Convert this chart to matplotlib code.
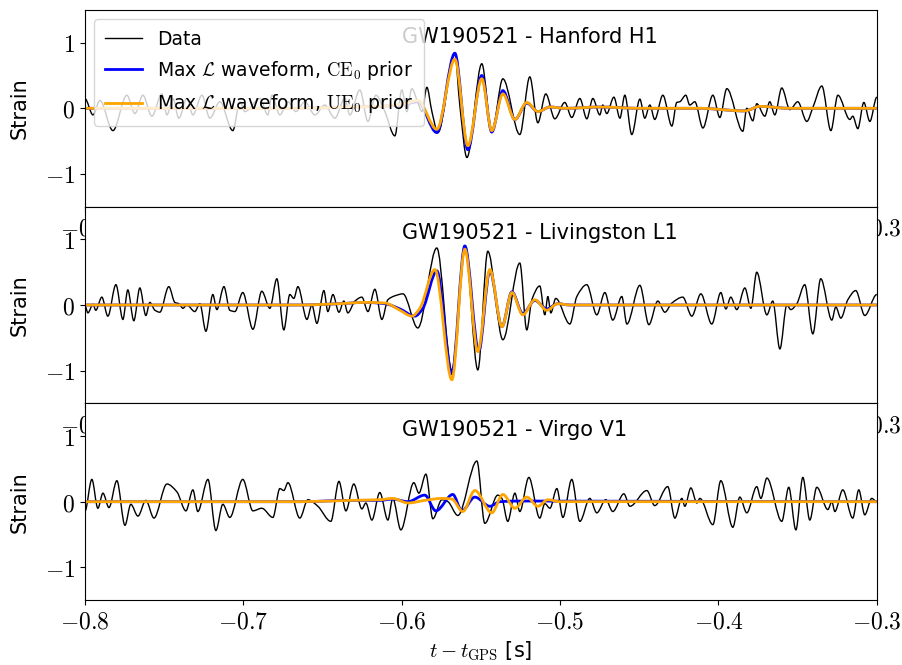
import numpy as np
import matplotlib
matplotlib.use("Agg")
import matplotlib.pyplot as plt
from matplotlib.ticker import FuncFormatter
from matplotlib.path import Path
from matplotlib.patches import PathPatch

plt.rcParams['font.family'] = 'DejaVu Sans'
plt.rcParams['mathtext.fontset'] = 'cm'

# ---- Hanford H1 ----
h1_t = [-0.8000, -0.7949, -0.7905, -0.7823, -0.7735, -0.7684, -0.7634, -0.7577, -0.7514, -0.7482,
        -0.7444, -0.7407, -0.7356, -0.7318, -0.7261, -0.7211, -0.7148, -0.7066, -0.7021, -0.6990,
        -0.6895, -0.6845, -0.6819, -0.6769, -0.6718, -0.6668, -0.6611, -0.6548, -0.6485, -0.6422,
        -0.6359, -0.6327, -0.6264, -0.6213, -0.6163, -0.6106, -0.6043, -0.5999, -0.5967, -0.5936,
        -0.5898, -0.5872, -0.5841, -0.5809, -0.5771, -0.5664, -0.5633, -0.5588, -0.5494, -0.5431,
        -0.5361, -0.5254, -0.5191, -0.5140, -0.5090, -0.5033, -0.4970, -0.4926, -0.4875, -0.4831,
        -0.4793, -0.4749, -0.4730, -0.4705, -0.4660, -0.4622, -0.4591, -0.4547, -0.4496, -0.4465,
        -0.4433, -0.4402, -0.4351, -0.4294, -0.4263, -0.4244, -0.4206, -0.4181, -0.4149, -0.4098,
        -0.4035, -0.3991, -0.3947, -0.3846, -0.3821, -0.3783, -0.3758, -0.3707, -0.3676, -0.3644,
        -0.3600, -0.3549, -0.3499, -0.3442, -0.3404, -0.3347, -0.3290, -0.3246, -0.3170, -0.3152,
        -0.3120, -0.3082, -0.3044, -0.3000]
h1_data = [0.15, -0.10, 0.12, -0.34, 0.20, -0.08, 0.20, -0.12, 0.22, -0.10,
           0.15, -0.15, 0.15, -0.10, 0.20, -0.15, 0.10, -0.34, 0.10, -0.05,
           0.15, -0.10, 0.20, -0.10, 0.10, -0.05, 0.10, -0.10, 0.05, -0.15,
           0.15, -0.10, 0.28, -0.20, 0.20, -0.05, -0.42, 0.28, -0.05, 0.30,
           0.09, -0.05, 0.32, -0.05, -0.37, 0.83, 0.05, -0.75, 0.68, -0.37,
           0.45, -0.40, 0.48, -0.22, 0.22, -0.16, 0.09, -0.14, 0.15, -0.16,
           0.15, -0.10, 0.05, -0.08, 0.17, -0.15, 0.20, -0.40, 0.14, -0.15,
           0.05, -0.17, 0.20, -0.27, 0.09, 0.10, 0.20, 0.05, 0.10, -0.30,
           0.20, -0.14, 0.30, -0.35, 0.00, -0.19, 0.07, -0.12, 0.10, -0.10,
           0.31, -0.02, 0.10, -0.20, 0.01, 0.34, -0.34, 0.20, -0.17, -0.12,
           -0.31, 0.09, -0.20, 0.17]
h1_wf_t = [-0.8000, -0.6643, -0.6327, -0.6138, -0.5980, -0.5898, -0.5778, -0.5664, -0.5582, -0.5494,
           -0.5431, -0.5361, -0.5285, -0.5210, -0.5140, -0.5064, -0.4970, -0.4749, -0.4496, -0.4117,
           -0.3833, -0.3739, -0.3549, -0.3000]
h1_ce = [0.0, 0.0, 0.02, 0.03, 0.06, 0.10, -0.37, 0.84, -0.63, 0.50,
         -0.36, 0.27, -0.17, 0.08, -0.05, 0.02, 0.0, 0.02, 0.0, 0.0,
         -0.04, 0.03, 0.0, 0.0]
h1_ue = [0.0, 0.0, 0.02, 0.03, 0.07, 0.12, -0.32, 0.75, -0.57, 0.45,
         -0.34, 0.22, -0.17, 0.09, -0.05, 0.02, 0.0, 0.02, 0.0, 0.0,
         -0.04, 0.03, 0.0, 0.0]

# ---- Livingston L1 ----
l1_t = [-0.8000, -0.7981, -0.7949, -0.7931, -0.7893, -0.7855, -0.7804, -0.7760, -0.7729, -0.7691,
        -0.7653, -0.7615, -0.7590, -0.7558, -0.7527, -0.7470, -0.7432, -0.7407, -0.7381, -0.7356,
        -0.7306, -0.7274, -0.7236, -0.7192, -0.7167, -0.7122, -0.7085, -0.7053, -0.7003, -0.6939,
        -0.6883, -0.6832, -0.6788, -0.6744, -0.6706, -0.6681, -0.6655, -0.6598, -0.6567, -0.6535,
        -0.6491, -0.6466, -0.6434, -0.6396, -0.6365, -0.6340, -0.6295, -0.6251, -0.6213, -0.6169,
        -0.6125, -0.6087, -0.6043, -0.5992, -0.5898, -0.5778, -0.5683, -0.5601, -0.5519, -0.5456,
        -0.5361, -0.5254, -0.5210, -0.5178, -0.5128, -0.5096, -0.5077, -0.5058, -0.5027, -0.4938,
        -0.4894, -0.4831, -0.4768, -0.4717, -0.4667, -0.4610, -0.4578, -0.4496, -0.4439, -0.4383,
        -0.4338, -0.4294, -0.4225, -0.4168, -0.4111, -0.4042, -0.3985, -0.3953, -0.3922, -0.3884,
        -0.3833, -0.3795, -0.3758, -0.3694, -0.3657, -0.3612, -0.3568, -0.3543, -0.3505, -0.3455,
        -0.3404, -0.3354, -0.3284, -0.3259, -0.3227, -0.3183, -0.3133, -0.3076, -0.3000]
l1_data = [0.0, -0.12, 0.01, -0.08, 0.12, -0.17, 0.31, -0.22, 0.23, -0.24,
           0.26, -0.16, 0.04, -0.08, -0.11, 0.28, 0.04, 0.02, -0.05, 0.0,
           -0.10, 0.02, -0.40, 0.16, -0.07, 0.28, -0.08, -0.10, 0.19, -0.37,
           0.21, -0.05, 0.40, -0.38, 0.16, 0.10, 0.28, -0.22, 0.0, -0.28,
           0.22, -0.10, 0.16, -0.11, 0.06, -0.12, 0.06, 0.12, -0.10, 0.24,
           -0.22, 0.08, 0.14, 0.17, -0.35, 0.87, -1.00, 0.90, -0.99, 0.82,
           -0.53, 0.64, -0.38, 0.08, 0.29, -0.15, 0.13, -0.12, 0.10, -0.29,
           0.13, 0.31, -0.15, 0.19, -0.23, 0.13, -0.29, 0.30, -0.30, 0.06,
           -0.11, 0.03, 0.12, -0.17, 0.17, -0.29, 0.19, -0.06, 0.12, -0.07,
           0.26, -0.05, 0.50, -0.15, 0.06, -0.67, 0.0, -0.07, 0.02, 0.31,
           -0.44, 0.40, -0.23, -0.03, -0.20, 0.08, 0.22, -0.16, 0.16]
l1_ce_t = [-0.8000, -0.6643, -0.6390, -0.6232, -0.6106, -0.6011, -0.5917, -0.5866, -0.5778, -0.5683,
           -0.5601, -0.5513, -0.5443, -0.5367, -0.5304, -0.5235, -0.5159, -0.5084, -0.5014, -0.4938,
           -0.3000]
l1_ce = [0.0, 0.0, 0.02, 0.04, 0.02, -0.06, -0.17, -0.05, 0.52, -1.05,
         0.90, -0.70, 0.52, -0.33, 0.20, -0.13, 0.07, -0.06, 0.02, 0.0,
         0.0]
l1_ue_t = [-0.8000, -0.6643, -0.6390, -0.6232, -0.6106, -0.6011, -0.5936, -0.5885, -0.5790, -0.5683,
           -0.5601, -0.5519, -0.5443, -0.5367, -0.5304, -0.5235, -0.5159, -0.5084, -0.5014, -0.4938,
           -0.3000]
l1_ue = [0.0, 0.0, 0.02, 0.04, 0.03, -0.08, -0.17, -0.05, 0.54, -1.14,
         0.85, -0.71, 0.54, -0.33, 0.19, -0.15, 0.08, -0.08, 0.02, 0.0,
         0.0]

# ---- Virgo V1 ----
v1_t = [-0.8000, -0.7956, -0.7918, -0.7886, -0.7848, -0.7798, -0.7747, -0.7710, -0.7665, -0.7615,
        -0.7564, -0.7482, -0.7419, -0.7362, -0.7318, -0.7287, -0.7223, -0.7173, -0.7129, -0.7085,
        -0.7003, -0.6939, -0.6883, -0.6813, -0.6769, -0.6744, -0.6718, -0.6643, -0.6592, -0.6529,
        -0.6447, -0.6396, -0.6352, -0.6302, -0.6251, -0.6226, -0.6188, -0.6138, -0.6087, -0.6056,
        -0.6005, -0.5923, -0.5891, -0.5847, -0.5803, -0.5746, -0.5708, -0.5645, -0.5525, -0.5475,
        -0.5393, -0.5367, -0.5330, -0.5285, -0.5254, -0.5197, -0.5128, -0.5096, -0.5064, -0.5020,
        -0.4982, -0.4926, -0.4875, -0.4812, -0.4768, -0.4711, -0.4667, -0.4597, -0.4559, -0.4452,
        -0.4402, -0.4320, -0.4275, -0.4231, -0.4212, -0.4174, -0.4136, -0.4117, -0.4035, -0.3985,
        -0.3909, -0.3865, -0.3821, -0.3758, -0.3732, -0.3694, -0.3600, -0.3556, -0.3511, -0.3467,
        -0.3423, -0.3379, -0.3309, -0.3284, -0.3265, -0.3215, -0.3152, -0.3114, -0.3076, -0.3032,
        -0.3000]
v1_data = [-0.15, 0.34, -0.10, 0.13, -0.09, 0.32, -0.36, -0.04, -0.22, 0.02,
           -0.25, 0.27, 0.15, -0.14, 0.18, -0.15, 0.34, -0.44, -0.04, -0.24,
           0.34, -0.14, -0.10, -0.24, 0.20, 0.17, 0.29, -0.25, 0.03, -0.07,
           -0.30, 0.31, -0.14, 0.27, -0.11, -0.02, -0.28, 0.14, -0.28, 0.05,
           -0.43, 0.29, 0.13, 0.42, -0.26, 0.03, 0.0, -0.21, 0.62, -0.33,
           0.10, 0.05, -0.30, 0.13, -0.15, 0.37, -0.25, -0.03, -0.10, 0.20,
           -0.24, 0.34, -0.30, 0.05, -0.17, 0.03, -0.15, 0.12, -0.07, 0.17,
           -0.06, 0.23, -0.25, 0.05, -0.07, 0.21, -0.02, 0.05, -0.35, 0.32,
           -0.39, 0.07, -0.17, 0.23, 0.05, 0.36, -0.30, 0.22, -0.43, 0.37,
           -0.28, 0.22, -0.12, 0.0, -0.15, 0.18, -0.25, 0.18, -0.20, 0.05,
           0.0]
v1_ce_t = [-0.8000, -0.6643, -0.6327, -0.6138, -0.6056, -0.5961, -0.5854, -0.5784, -0.5677, -0.5620,
           -0.5538, -0.5443, -0.5380, -0.5254, -0.3000]
v1_ce = [0.0, 0.0, 0.02, 0.02, 0.04, 0.0, 0.10, -0.14, 0.11, -0.14,
         0.07, -0.07, 0.0, 0.01, 0.0]
v1_ue_t = [-0.8000, -0.6643, -0.6327, -0.6138, -0.6056, -0.5961, -0.5854, -0.5746, -0.5683, -0.5614,
           -0.5538, -0.5431, -0.5361, -0.5285, -0.5210, -0.5140, -0.5077, -0.5001, -0.3000]
v1_ue = [0.0, 0.0, 0.02, 0.03, 0.05, -0.02, 0.02, 0.05, 0.04, -0.15,
         0.17, -0.17, 0.11, -0.10, 0.07, -0.07, 0.03, 0.0, 0.0]

panels = [
    ("GW190521 - Hanford H1", h1_t, h1_data, h1_wf_t, h1_ce, h1_wf_t, h1_ue),
    ("GW190521 - Livingston L1", l1_t, l1_data, l1_ce_t, l1_ce, l1_ue_t, l1_ue),
    ("GW190521 - Virgo V1", v1_t, v1_data, v1_ce_t, v1_ce, v1_ue_t, v1_ue),
]

lab_ce = r'Max $\mathcal{L}$ waveform, $\mathrm{CE}_0$ prior'
lab_ue = r'Max $\mathcal{L}$ waveform, $\mathrm{UE}_0$ prior'


def curve(t, v):
    # smooth Bezier path through the read-off points (flat at peaks/troughs)
    t = np.asarray(t, float)
    v = np.asarray(v, float)
    n = len(t)
    s = np.diff(v) / np.diff(t)
    m = np.zeros(n)
    for i in range(1, n - 1):
        if s[i - 1] * s[i] > 0:
            m[i] = 2.0 / (1.0 / s[i - 1] + 1.0 / s[i])
    verts = [(t[0], v[0])]
    codes = [Path.MOVETO]
    for i in range(n - 1):
        dt = t[i + 1] - t[i]
        verts += [(t[i] + dt / 3, v[i] + m[i] * dt / 3),
                  (t[i + 1] - dt / 3, v[i + 1] - m[i + 1] * dt / 3),
                  (t[i + 1], v[i + 1])]
        codes += [Path.CURVE4] * 3
    return Path(verts, codes)


fig = plt.figure(figsize=(9.03, 6.65), dpi=100)
left, width = 0.094, 0.877
top, bottom = 0.985, 0.0977
h = (top - bottom) / 3

math_fmt = FuncFormatter(lambda v, p: '$%g$' % v)

axes = []
for i, (name, t, d, tc, ce, tu, ue) in enumerate(panels):
    ax = fig.add_axes([left, top - (i + 1) * h, width, h])
    ax.add_patch(PathPatch(curve(t, d), fill=False, edgecolor='black', lw=1.0, zorder=2))
    ax.add_patch(PathPatch(curve(tc, ce), fill=False, edgecolor='blue', lw=2.0, zorder=2))
    ax.add_patch(PathPatch(curve(tu, ue), fill=False, edgecolor='orange', lw=2.0, zorder=2))
    ax.plot([], [], color='black', lw=1.0, label='Data')
    ax.plot([], [], color='blue', lw=2.0, label=lab_ce)
    ax.plot([], [], color='orange', lw=2.0, label=lab_ue)
    ax.set_xlim(-0.8, -0.3)
    ax.set_ylim(-1.5, 1.5)
    ax.set_yticks([-1, 0, 1])
    ax.set_xticks([-0.8, -0.7, -0.6, -0.5, -0.4, -0.3])
    ax.xaxis.set_major_formatter(math_fmt)
    ax.yaxis.set_major_formatter(math_fmt)
    ax.tick_params(labelsize=17)
    ax.set_ylabel('Strain', fontsize=15)
    ax.yaxis.set_label_coords(-0.07, 0.5)
    ax.text(-0.6, 1.0, name, fontsize=15)
    axes.append(ax)

axes[0].legend(loc='upper left', fontsize=13.5, labelspacing=0.55, borderpad=0.55)
axes[-1].set_xlabel(r'$t - t_{\rm GPS}$ [s]', fontsize=15)

fig.savefig('out.png', dpi=100)
